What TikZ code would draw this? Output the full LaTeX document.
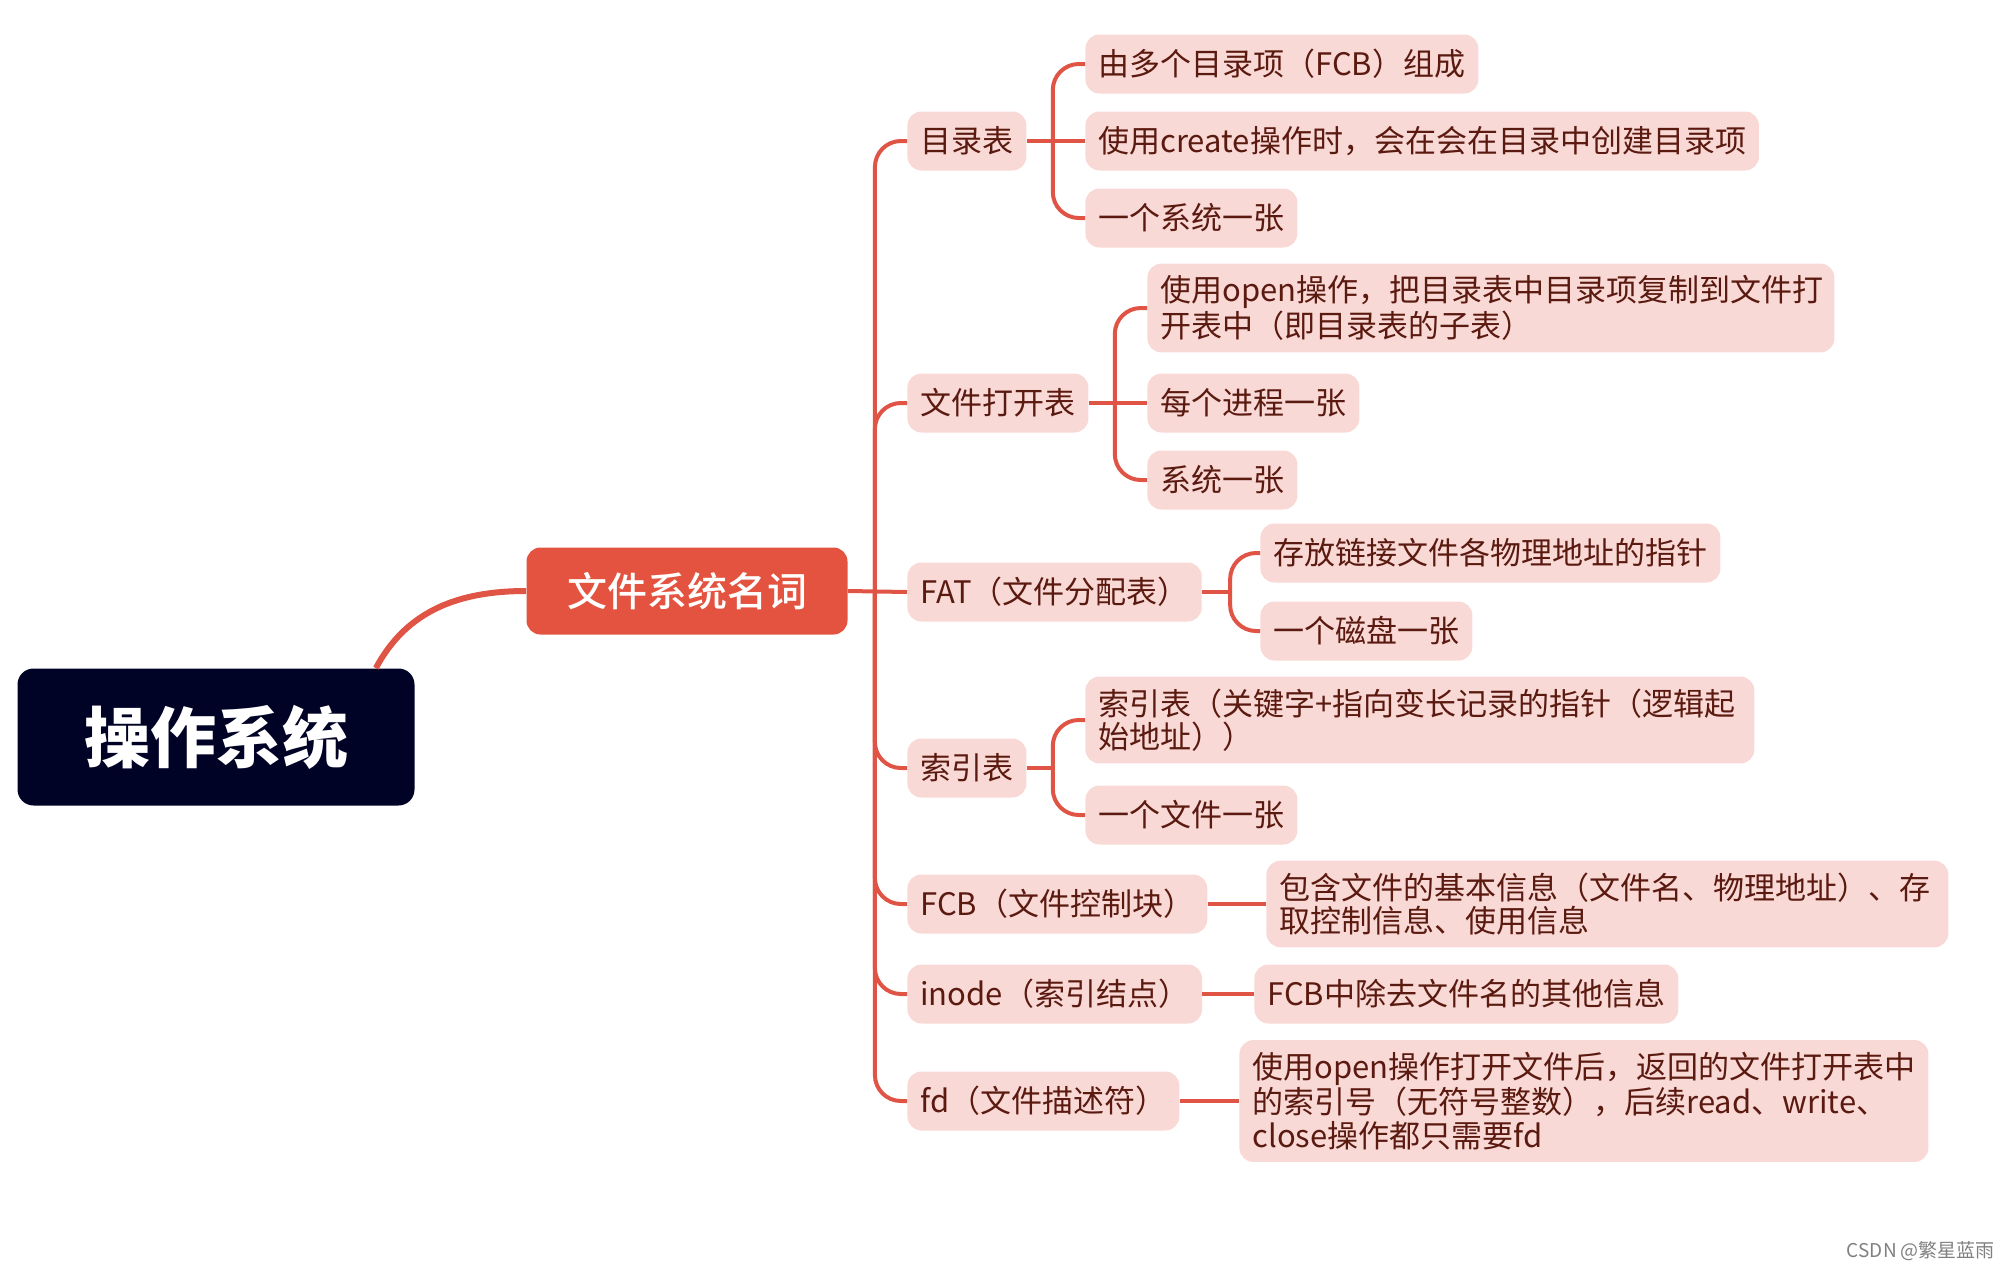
\documentclass[tikz,border=0pt]{standalone}
\usepackage{fontspec}
\newfontfamily\cjk{Noto Sans CJK SC}
\newfontfamily\cjkmid{Noto Sans CJK SC Medium}
\usetikzlibrary{calc}
\definecolor{mmroot}{HTML}{000326}
\definecolor{mmred}{HTML}{E4533F}
\definecolor{mmline}{HTML}{E05446}
\definecolor{mmpink}{HTML}{F9D9D6}
\definecolor{mmtext}{HTML}{5B1A10}

\begin{document}
\begin{tikzpicture}[
  x=0.5pt, y=-0.5pt,
  font=\cjk\fontsize{15.5pt}{16.7pt}\selectfont,
  rootbox/.style={rounded corners=8pt, fill=mmroot, text=white, minimum width=198.5pt, minimum height=68.5pt, font=\cjk\fontsize{33pt}{33pt}\selectfont\bfseries},
  topic/.style={rounded corners=7pt, fill=mmred, text=white, minimum width=160.5pt, minimum height=43.5pt, font=\cjkmid\fontsize{20pt}{20pt}\selectfont},
  leaf/.style={rounded corners=7pt, fill=mmpink, text=mmtext, anchor=west, align=left, inner xsep=6.5pt, inner ysep=6pt, minimum height=29.5pt},
  wrapleaf/.style={leaf, text width=#1},
  branch/.style={draw=mmline, line width=2pt, rounded corners=13pt},
  rootlink/.style={draw=mmline, line width=3pt}
]
\useasboundingbox (0,0) rectangle (2014,1270);

\node[rootbox] (os) at (216,737) {操作系统};
\node[topic] (fs) at (687,591) {文件系统名词};

% second level
\node[leaf] (dir) at (907,141) {目录表};
\node[leaf] (oft) at (907,403) {文件打开表};
\node[leaf] (fat) at (907,592) {FAT（文件分配表）};
\node[leaf] (idx) at (907,768) {索引表};
\node[leaf] (fcb) at (907,904) {FCB（文件控制块）};
\node[leaf] (inode) at (907,994) {inode（索引结点）};
\node[leaf] (fd) at (907,1101) {fd（文件描述符）};

% third level
\node[leaf] (dir1) at (1085,64) {由多个目录项（FCB）组成};
\node[leaf] (dir2) at (1085,141) {使用create操作时，会在会在目录中创建目录项};
\node[leaf] (dir3) at (1085,218) {一个系统一张};
\node[wrapleaf=330.5pt] (oft1) at (1147,308) {使用open操作，把目录表中目录项复制到文件打\\开表中（即目录表的子表）};
\node[leaf] (oft2) at (1147,403) {每个进程一张};
\node[leaf] (oft3) at (1147,480) {系统一张};
\node[leaf] (fat1) at (1260,553) {存放链接文件各物理地址的指针};
\node[leaf] (fat2) at (1260,631) {一个磁盘一张};
\node[wrapleaf=321.5pt] (idx1) at (1085,720) {索引表（关键字+指向变长记录的指针（逻辑起\\始地址））};
\node[leaf] (idx2) at (1085,815) {一个文件一张};
\node[wrapleaf=328pt] (fcb1) at (1266,904) {包含文件的基本信息（文件名、物理地址）、存\\取控制信息、使用信息};
\node[leaf] (inode1) at (1254,994) {FCB中除去文件名的其他信息};
\node[wrapleaf=331.5pt] (fd1) at (1239,1101) {使用open操作打开文件后，返回的文件打开表中\\的索引号（无符号整数），后续read、write、\\close操作都只需要fd};

\node[text=gray, anchor=east, font=\cjk\fontsize{9.5pt}{9.5pt}\selectfont] (mark) at (2002,1251) {CSDN @繁星蓝雨};

% connectors
\draw[rootlink] ($(os.north east)+(-39,0)$) to[out=62,in=180] (fs.west);
\coordinate (trunk) at ($(fs.east)+(27,0)$);
\draw[branch] (fs.east) -- (fat.west);
\foreach \n in {dir,oft,idx,fcb,inode,fd}
  \draw[branch] (trunk) |- (\n.west);

\coordinate (dirfork) at ($(dir.east)+(26,0)$);
\draw[branch] (dir.east) -- (dir2.west);
\draw[branch] (dirfork) |- (dir1.west);
\draw[branch] (dirfork) |- (dir3.west);

\coordinate (oftfork) at ($(oft.east)+(26,0)$);
\draw[branch] (oft.east) -- (oft2.west);
\draw[branch] (oftfork) |- (oft1.west);
\draw[branch] (oftfork) |- (oft3.west);

\coordinate (fatfork) at ($(fat.east)+(28,0)$);
\draw[branch] (fat.east) -- (fatfork);
\draw[branch] (fatfork) |- (fat1.west);
\draw[branch] (fatfork) |- (fat2.west);

\coordinate (idxfork) at ($(idx.east)+(26,0)$);
\draw[branch] (idx.east) -- (idxfork);
\draw[branch] (idxfork) |- (idx1.west);
\draw[branch] (idxfork) |- (idx2.west);

\draw[branch] (fcb.east) -- (fcb1.west);
\draw[branch] (inode.east) -- (inode1.west);
\draw[branch] (fd.east) -- (fd1.west);
\end{tikzpicture}
\end{document}
